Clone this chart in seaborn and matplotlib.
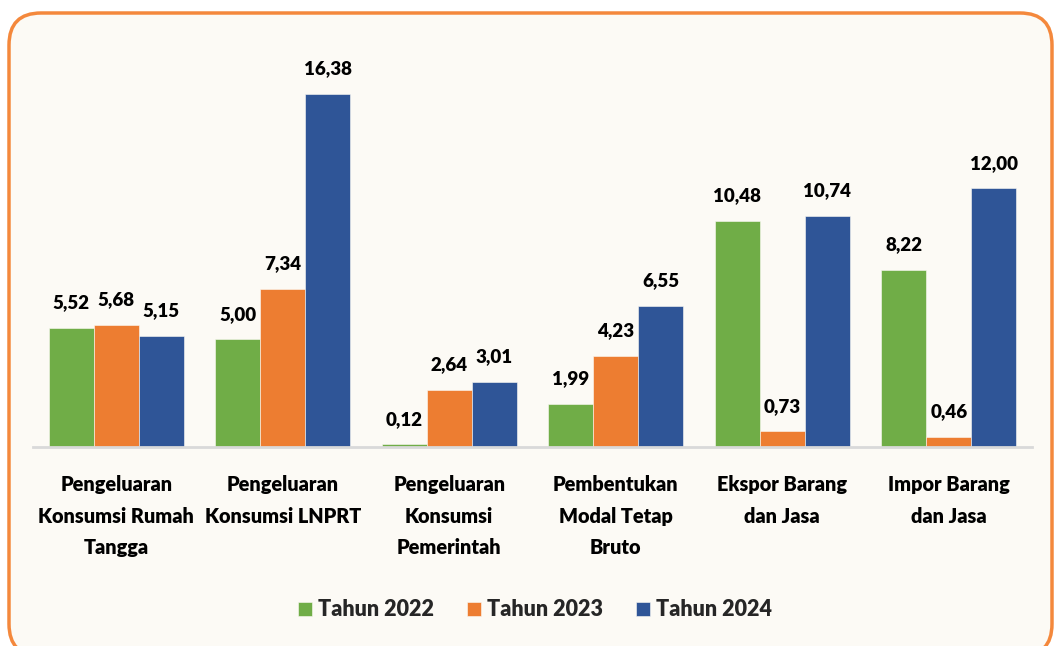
import pandas as pd
import matplotlib.pyplot as plt
import seaborn as sns
from matplotlib.patches import FancyBboxPatch

# Data
categories = ['Pengeluaran\nKonsumsi Rumah\nTangga', 'Pengeluaran\nKonsumsi LNPRT',
              'Pengeluaran\nKonsumsi\nPemerintah', 'Pembentukan\nModal Tetap\nBruto',
              'Ekspor Barang\ndan Jasa', 'Impor Barang\ndan Jasa']
years = ['Tahun 2022', 'Tahun 2023', 'Tahun 2024']
v2022 = [5.52, 5.00, 0.12, 1.99, 10.48, 8.22]
v2023 = [5.68, 7.34, 2.64, 4.23, 0.73, 0.46]
v2024 = [5.15, 16.38, 3.01, 6.55, 10.74, 12.00]
colors = ['#70AD47', '#ED7D31', '#2F5597']

df = pd.DataFrame({
    'kategori': categories * 3,
    'tahun': [years[0]] * 6 + [years[1]] * 6 + [years[2]] * 6,
    'nilai': v2022 + v2023 + v2024,
})

sns.set_style('white')
plt.rcParams['font.family'] = ['Lato', 'DejaVu Sans']

W, H = 1055, 646
fig = plt.figure(figsize=(W / 100, H / 100), dpi=100)
fig.patch.set_facecolor('white')

# rounded orange frame (pixel coords, origin bottom-left)
frame = FancyBboxPatch((9, -10), 1043, 643,
                       boxstyle='round,pad=0,rounding_size=32',
                       transform=None, facecolor='#FCFAF5',
                       edgecolor='#F4883C', linewidth=2.5, zorder=-5)
fig.patches.append(frame)

ax = fig.add_axes([33 / W, 1 - 447 / H, 999 / W, 387 / H])
ax.set_facecolor('none')
sns.barplot(data=df, x='kategori', y='nilai', hue='tahun', palette=colors,
            width=0.81, saturation=1, ax=ax, edgecolor='#FCFAF5', linewidth=0.4)

for cont in ax.containers:
    labels = [f'{v:.2f}'.replace('.', ',') for v in cont.datavalues]
    ax.bar_label(cont, labels=labels, padding=12, fontsize=13.5,
                 fontweight='heavy', color='#000000')

ax.set_xlim(-0.5, 5.5)
ax.set_ylim(0, 17.96)
ax.set_xlabel('')
ax.set_ylabel('')
ax.set_yticks([])
for s in ['top', 'right', 'left']:
    ax.spines[s].set_visible(False)
ax.spines['bottom'].set_color('#D9D9D9')
ax.spines['bottom'].set_linewidth(2)
ax.tick_params(axis='x', length=0, pad=20)
plt.setp(ax.get_xticklabels(), fontsize=14.3, fontweight='heavy',
         color='#000000', linespacing=1.8, va='top')

handles, lbls = ax.get_legend_handles_labels()
ax.legend(handles, lbls, loc='center', bbox_to_anchor=(535 / W, 1 - 610 / H),
          bbox_transform=fig.transFigure, ncol=3, frameon=False,
          prop={'size': 15.5, 'weight': 'heavy'}, handlelength=0.65,
          handleheight=0.65, handletextpad=0.3, columnspacing=1.5)

fig.savefig('out.png', dpi=100)
